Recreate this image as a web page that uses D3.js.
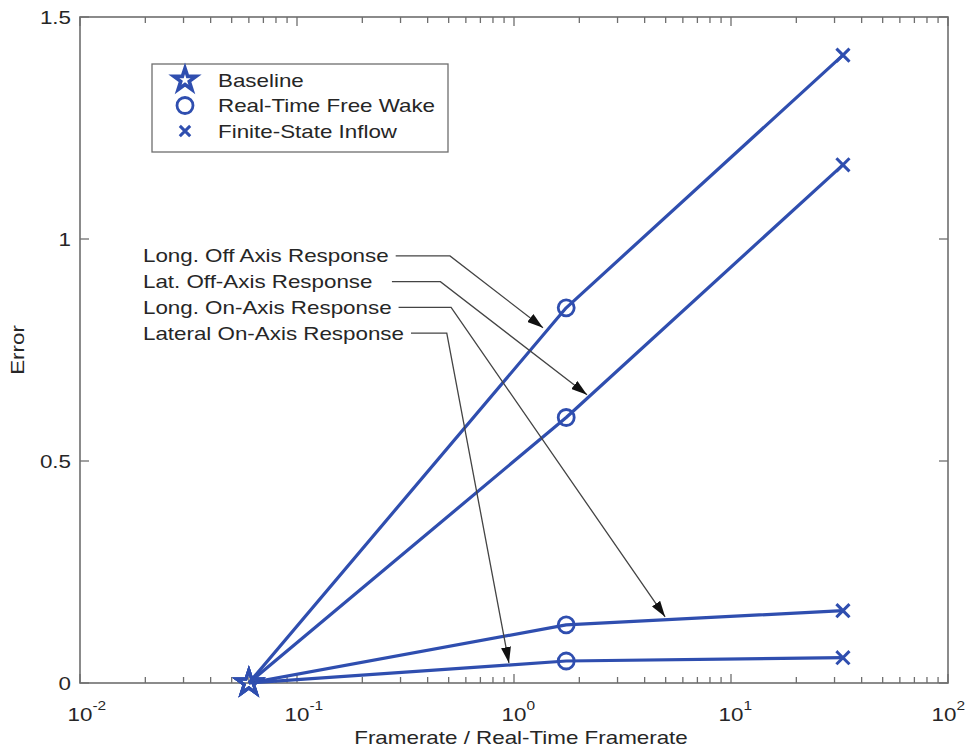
<!DOCTYPE html>
<html>
<head>
<meta charset="utf-8">
<script src="https://cdn.jsdelivr.net/npm/d3@7"></script>
<style>
  body { margin: 0; background: #fff; }
  text { font-family: "Liberation Sans", Arial, Helvetica, sans-serif; fill: #262626; white-space: pre; }
</style>
</head>
<body>
<svg id="chart" width="967" height="748"></svg>
<script>
// Error versus framerate ratio for three inflow models
const methods = ["Baseline", "Real-Time Free Wake", "Finite-State Inflow"];
const frameRates = [0.06, 1.74, 32.8];

const responses = [
  "Long. Off Axis Response",
  "Lat. Off-Axis Response  ",
  "Long. On-Axis Response",
  "Lateral On-Axis Response"
];
const longOffAxis = [0, 0.845, 1.414];
const latOffAxis  = [0, 0.598, 1.167];
const longOnAxis  = [0, 0.131, 0.163];
const latOnAxis   = [0, 0.0495, 0.057];
const seriesValues = [longOffAxis, latOffAxis, longOnAxis, latOnAxis];

// callout labels: anchor, elbow and arrow tip, in data units
const calloutLabelX = 0.0195;
const calloutLabelY = [0.962, 0.904, 0.846, 0.788];
const calloutElbowX = [0.507, 0.458, 0.513, 0.49];
const calloutTipX   = [1.36, 2.17, 4.97, 0.948];
const calloutTipY   = [0.80, 0.649, 0.149, 0.045];

const xDomain = [1e-2, 1e2];
const yTicks = [0, 0.5, 1, 1.5];
const yTickLabels = ["0", "0.5", "1", "1.5"];
const xTicks = [1e-2, 1e-1, 1e0, 1e1, 1e2];
const xTickExponents = ["-2", "-1", "0", "1", "2"];

const blue = "#2f4eaf";
const axisColor = "#6e6e6e";
const FS = 18.8, SX = 1.19;
const W = 967;

const svg = d3.select("#chart");
const m = { left: 80, right: 948, top: 17, bottom: 683 };

const x = d3.scaleLog().domain(xDomain).range([m.left, m.right]);
const y = d3.scaleLinear().domain([0, 1.5]).range([m.bottom, m.top]);

// text helper with the horizontally widened glyphs
function label(g, px, py, str, anchor = "start", size = FS) {
  return g.append("text")
    .attr("transform", `translate(${px},${py}) scale(${SX},1)`)
    .attr("text-anchor", anchor)
    .style("font-size", size + "px")
    .text(str);
}

// ---- frame and ticks ----
const axes = svg.append("g");
axes.append("rect")
  .attr("x", m.left).attr("y", m.top)
  .attr("width", m.right - m.left).attr("height", m.bottom - m.top)
  .attr("fill", "none").attr("stroke", axisColor).attr("stroke-width", 1.6);

const minorTicks = [];
for (let e = -2; e < 2; e++) for (let k = 2; k <= 9; k++) minorTicks.push(k * Math.pow(10, e));

const tickG = axes.append("g").attr("stroke", axisColor).attr("stroke-width", 1.3);
minorTicks.forEach(v => {
  tickG.append("line").attr("x1", x(v)).attr("x2", x(v)).attr("y1", m.bottom).attr("y2", m.bottom - 6);
  tickG.append("line").attr("x1", x(v)).attr("x2", x(v)).attr("y1", m.top).attr("y2", m.top + 6);
});
xTicks.forEach(v => {
  tickG.append("line").attr("x1", x(v)).attr("x2", x(v)).attr("y1", m.bottom).attr("y2", m.bottom - 9);
  tickG.append("line").attr("x1", x(v)).attr("x2", x(v)).attr("y1", m.top).attr("y2", m.top + 9);
});
yTicks.forEach(v => {
  tickG.append("line").attr("x1", m.left).attr("x2", m.left + 9).attr("y1", y(v)).attr("y2", y(v));
  tickG.append("line").attr("x1", m.right).attr("x2", m.right - 9).attr("y1", y(v)).attr("y2", y(v));
});

// y tick labels
yTicks.forEach((v, i) => label(axes, m.left - 9, y(v) + 6.5, yTickLabels[i], "end"));

// x tick labels as powers of ten, kept inside the page width
xTicks.forEach((v, i) => {
  const t = axes.append("text")
    .attr("transform", `translate(${x(v) - 12.5},${721}) scale(${SX},1)`)
    .style("font-size", FS + "px");
  t.append("tspan").text("10");
  t.append("tspan").attr("dy", -11).style("font-size", "13px").text(xTickExponents[i]);
  const right = x(v) - 12.5 + t.node().getComputedTextLength() * SX;
  if (right > W - 2) {
    t.attr("transform", `translate(${x(v) - 12.5 - (right - W + 2)},${721}) scale(${SX},1)`);
  }
});

// axis titles
label(axes, (m.left + m.right) / 2 + 7, 744, "Framerate / Real-Time Framerate", "middle");
axes.append("text")
  .attr("transform", `translate(24,${(m.top + m.bottom) / 2}) rotate(-90) scale(${SX},1)`)
  .attr("text-anchor", "middle")
  .style("font-size", FS + "px")
  .text("Error");

// ---- data lines ----
const line = d3.line().x((d, i) => x(frameRates[i])).y(d => y(d));
const plot = svg.append("g");
seriesValues.forEach(vals => {
  plot.append("path").datum(vals)
    .attr("d", line)
    .attr("fill", "none").attr("stroke", blue).attr("stroke-width", 3.2)
    .attr("stroke-linejoin", "round");
});

// marker shapes
function starPath(R) {
  const r = R * 0.382, pts = [];
  for (let k = 0; k < 10; k++) {
    const a = -Math.PI / 2 + k * Math.PI / 5, rr = k % 2 ? r : R;
    pts.push([rr * Math.cos(a), rr * Math.sin(a)]);
  }
  return "M" + pts.map(p => p.join(",")).join("L") + "Z";
}
function drawMarker(g, kind, cx, cy, scale = 1, sw = 2.8) {
  if (kind === 0) {
    g.append("path").attr("d", starPath(13 * scale))
      .attr("transform", `translate(${cx},${cy})`)
      .attr("fill", "none").attr("stroke", blue).attr("stroke-width", sw).attr("stroke-linejoin", "miter");
  } else if (kind === 1) {
    g.append("circle").attr("cx", cx).attr("cy", cy).attr("r", 8 * scale)
      .attr("fill", "none").attr("stroke", blue).attr("stroke-width", 2.8);
  } else {
    const h = 5.5 * scale;
    g.append("path")
      .attr("d", `M${cx - h},${cy - h}L${cx + h},${cy + h}M${cx - h},${cy + h}L${cx + h},${cy - h}`)
      .attr("stroke", blue).attr("stroke-width", 3).attr("stroke-linecap", "square");
  }
}
seriesValues.forEach(vals => {
  vals.forEach((v, i) => drawMarker(plot, i, x(frameRates[i]), y(v), 1, 3));
});

// ---- legend ----
const leg = svg.append("g");
leg.append("rect").attr("x", 152).attr("y", 64).attr("width", 296).attr("height", 88)
  .attr("fill", "#fff").attr("stroke", axisColor).attr("stroke-width", 1.3);
methods.forEach((name, i) => {
  const cy = 80 + i * 25.5;
  drawMarker(leg, i, 185, cy, i === 0 ? 0.9 : (i === 2 ? 0.75 : 1), 3.6);
  label(leg, 218, cy + 6.5, name);
});

// ---- callouts ----
const defs = svg.append("defs");
defs.append("marker").attr("id", "arrowHead")
  .attr("viewBox", "0 0 16 10").attr("refX", 16).attr("refY", 5)
  .attr("markerWidth", 16).attr("markerHeight", 10)
  .attr("markerUnits", "userSpaceOnUse").attr("orient", "auto")
  .append("path").attr("d", "M0,0L16,5L0,10Z").attr("fill", "#111");

const call = svg.append("g");
responses.forEach((name, i) => {
  const ly = y(calloutLabelY[i]);
  const t = label(call, x(calloutLabelX), ly + 6.5, name);
  const endX = x(calloutLabelX) + t.node().getComputedTextLength() * SX + 7;
  call.append("path")
    .attr("d", `M${endX},${ly}L${x(calloutElbowX[i])},${ly}L${x(calloutTipX[i])},${y(calloutTipY[i])}`)
    .attr("fill", "none").attr("stroke", "#444").attr("stroke-width", 1.3)
    .attr("marker-end", "url(#arrowHead)");
});
</script>
</body>
</html>
